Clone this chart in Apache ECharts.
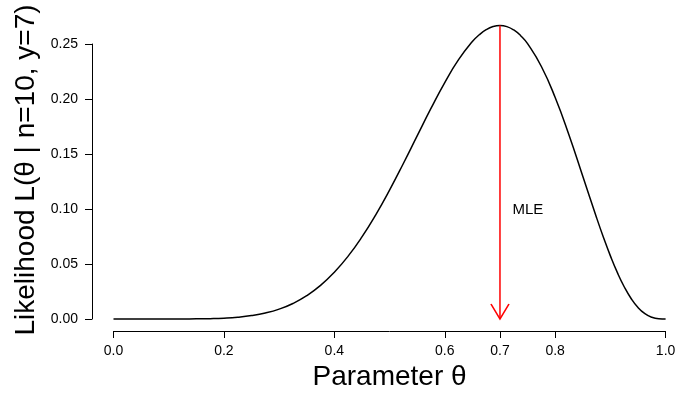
<!DOCTYPE html>
<html><head><meta charset="utf-8">
<script src="https://cdn.jsdelivr.net/npm/echarts@6/dist/echarts.min.js"></script>
<style>html,body{margin:0;padding:0;background:#fff}#c{width:676px;height:395px}</style>
</head><body><div id="c"></div>
<script>
const thetaValues = [0,0.025,0.05,0.075,0.1,0.125,0.15,0.175,0.2,0.225,0.25,0.275,0.3,0.325,0.35,0.375,0.4,0.425,0.45,0.475,0.5,0.525,0.55,0.575,0.6,0.625,0.65,0.6625,0.675,0.6875,0.7,0.7125,0.725,0.7375,0.75,0.775,0.8,0.825,0.85,0.875,0.8875,0.9,0.9125,0.925,0.9375,0.95,0.9625,0.975,0.9875,1.0];
const likelihoodValues = [0,0,0.0000001,0.0000013,0.0000088,0.0000383,0.000126,0.000339,0.000786,0.001631,0.00309,0.005439,0.009002,0.014134,0.021203,0.030551,0.042467,0.057135,0.074603,0.094737,0.117188,0.141377,0.166478,0.191437,0.214991,0.23574,0.25222,0.258406,0.263002,0.265853,0.266828,0.265821,0.262754,0.257576,0.250282,0.229538,0.201327,0.167291,0.129834,0.092038,0.0741,0.057396,0.042348,0.029333,0.018648,0.010475,0.004843,0.00157,0.000215,0];
const xTickValues = [0,0.2,0.4,0.6,0.7,0.8,1.0];
const mleTheta = 0.7;
const mleLikelihood = 0.266828;
const mleLabel = 'MLE';
const mleLabelPos = [0.7225, 0.099];

const font = 'Liberation Sans, Arial, Helvetica, sans-serif';
const chart = echarts.init(document.getElementById('c'));
const vPath = 'path://M0,0 L9,15 L18,0';
chart.setOption({
  animation: false,
  grid: {left: 113.5, right: 10.4, top: 44, bottom: 76, containLabel: false, outerBoundsMode: 'none'},
  xAxis: {
    type: 'value', min: 0, max: 1, offset: 12,
    name: 'Parameter θ', nameLocation: 'middle', nameGap: 31,
    nameTextStyle: {fontFamily: font, fontSize: 28, color: '#000'},
    axisLine: {show: true, onZero: false, lineStyle: {color: '#000', width: 1}},
    axisTick: {show: true, length: 7, lineStyle: {color: '#000'}, customValues: xTickValues},
    axisLabel: {fontFamily: font, fontSize: 14, color: '#000', margin: 13, customValues: xTickValues,
      formatter: v => v.toFixed(1)},
    splitLine: {show: false}
  },
  yAxis: {
    type: 'value', min: 0, max: 0.25, interval: 0.05, offset: 21.5,
    name: 'Likelihood L(θ | n=10, y=7)', nameLocation: 'middle', nameGap: 52,
    nameTextStyle: {fontFamily: font, fontSize: 28, color: '#000', padding: [0,0,0,23]},
    axisLine: {show: true, onZero: false, lineStyle: {color: '#000', width: 1}},
    axisTick: {show: true, length: 7, lineStyle: {color: '#000'}},
    axisLabel: {fontFamily: font, fontSize: 14, color: '#000', margin: 14,
      formatter: v => v.toFixed(2)},
    splitLine: {show: false}
  },
  series: [{
    type: 'line', clip: false, smooth: true, symbol: 'none',
    data: thetaValues.map((t, i) => [t, likelihoodValues[i]]),
    lineStyle: {color: '#000', width: 1.5},
    markPoint: {
      symbol: 'circle', symbolSize: 0, silent: true,
      label: {show: true, position: 'right', distance: 0, formatter: mleLabel,
        fontFamily: font, fontSize: 15, color: '#000'},
      data: [{coord: mleLabelPos}]
    }
  }, {
    type: 'line', clip: false, silent: true, z: 3,
    lineStyle: {color: '#ff0000', width: 1.5},
    data: [
      {value: [mleTheta, mleLikelihood], symbol: 'none'},
      {value: [mleTheta, 0], symbol: vPath, symbolSize: [18, 15], symbolOffset: [0, -7.5],
        itemStyle: {color: 'none', borderColor: '#ff0000', borderWidth: 1.5}}
    ]
  }]
});
</script></body></html>
